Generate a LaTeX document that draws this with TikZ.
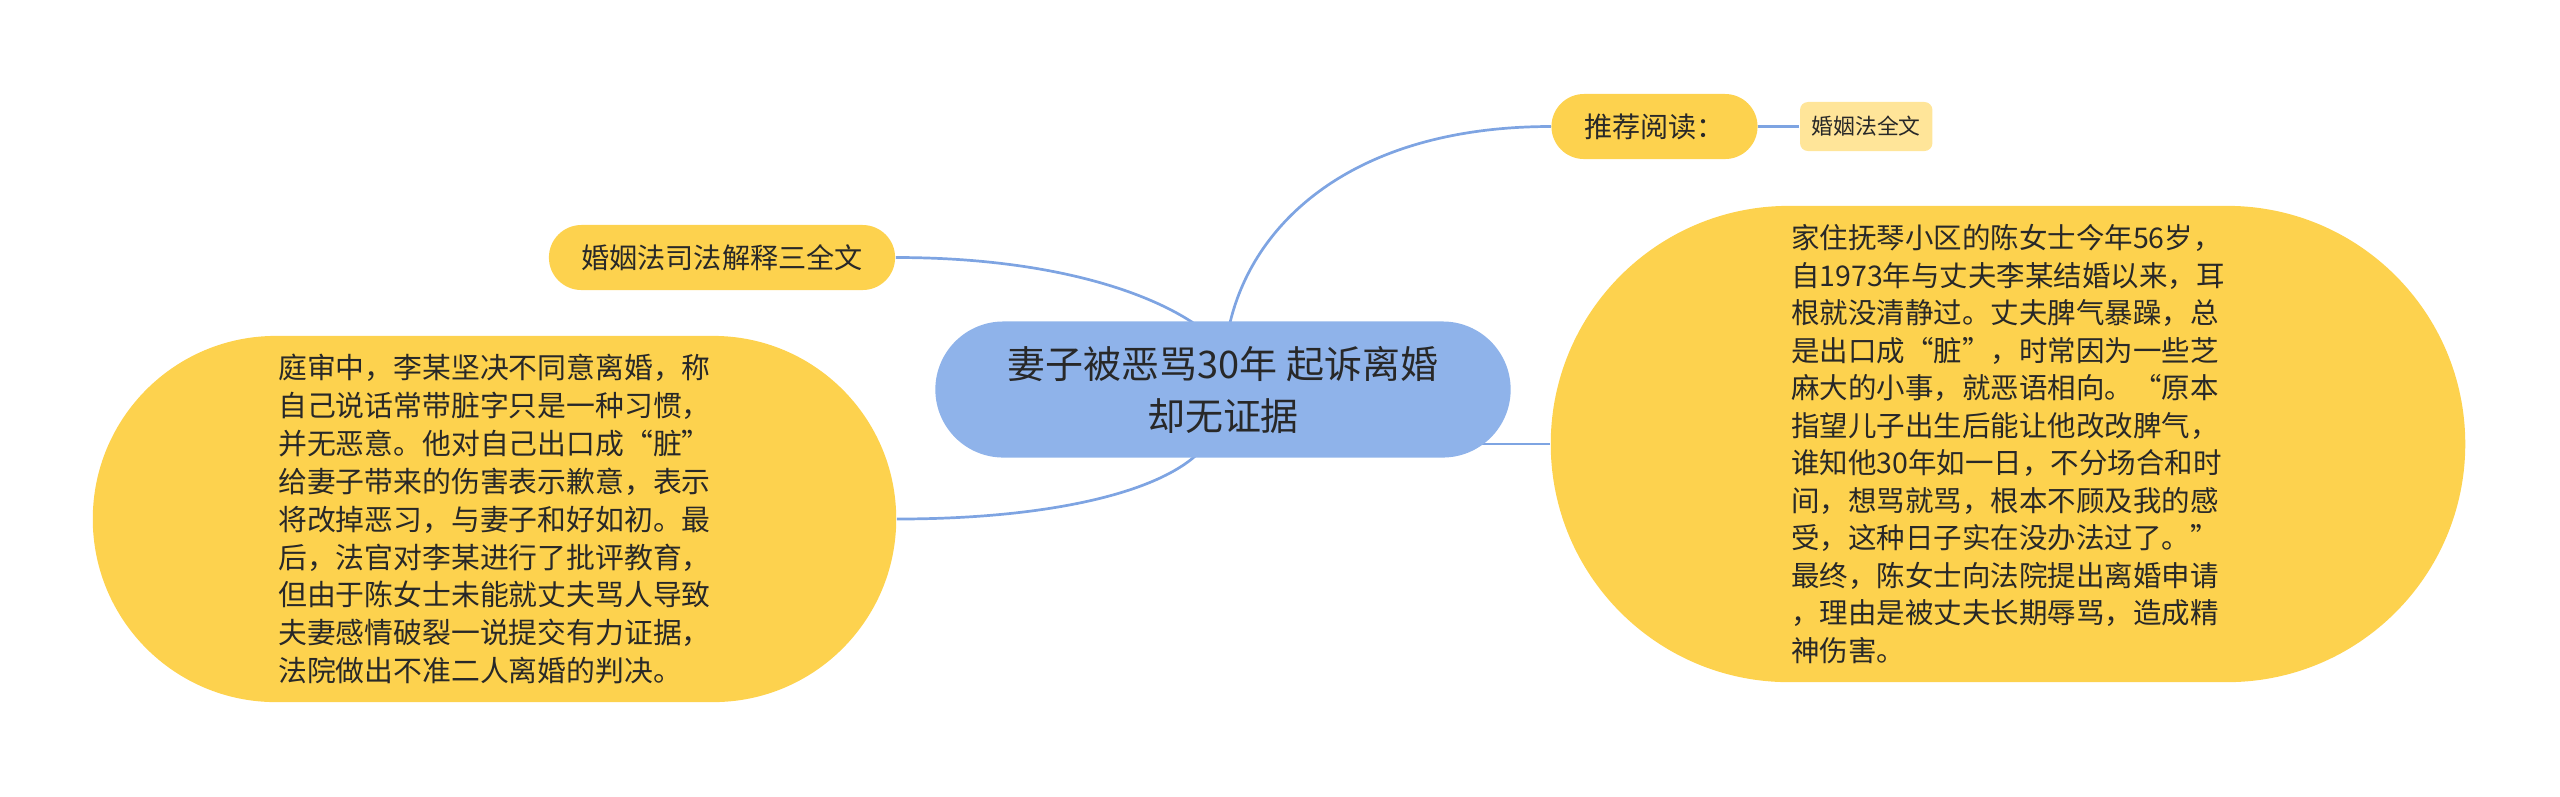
\documentclass[tikz,border=0pt]{standalone}
\usepackage{fontspec}
\usepackage{tikz}
\usetikzlibrary{positioning, backgrounds, calc}
\newfontfamily\cjk{Noto Sans CJK SC}
\definecolor{topicblue}{RGB}{143,179,234}
\definecolor{branchyellow}{RGB}{253,210,78}
\definecolor{leafyellow}{RGB}{255,229,153}
\definecolor{linkblue}{RGB}{126,164,226}
\definecolor{textdark}{RGB}{40,40,40}
\tikzset{
  topic/.style={fill=topicblue, rounded corners=0.68cm, minimum width=5.75cm,
                minimum height=1.36cm, align=center, text=textdark,
                font=\cjk\fontsize{10.8}{14.8}\selectfont},
  branch/.style={fill=branchyellow, rounded corners=0.325cm, minimum height=0.65cm,
                 align=center, text=textdark, font=\cjk\fontsize{8}{9.6}\selectfont},
  bigbranch/.style={fill=branchyellow, align=left, text=textdark},
  leaf/.style={fill=leafyellow, rounded corners=0.08cm, minimum width=1.31cm,
               minimum height=0.49cm, text=textdark, font=\cjk\fontsize{6.2}{7.4}\selectfont},
  link/.style={draw=linkblue, line width=0.77pt},
}
\begin{document}
\begin{tikzpicture}[x=0.01cm, y=-0.01cm, node distance=0.41cm]
  \useasboundingbox (0,0) rectangle (2560,796);

  % central topic
  \node[topic] (topic) at (1223,389.5) {妻子被恶骂30年 起诉离婚\\却无证据};

  % branches
  \node[branch, minimum width=2.06cm] (read) at (1654.5,126.5) {推荐阅读：};
  \node[leaf, right=of read] (lawtext) {婚姻法全文};
  \node[branch, minimum width=3.46cm] (interp) at (722,257.5) {婚姻法司法解释三全文};

  \node[bigbranch, rounded corners=1.83cm, minimum width=8.03cm, minimum height=3.66cm,
        font=\cjk\fontsize{8.2}{10.8}\selectfont] (court) at (494.5,519)
    {庭审中，李某坚决不同意离婚，称\\
     自己说话常带脏字只是一种习惯，\\
     并无恶意。他对自己出口成“脏”\\
     给妻子带来的伤害表示歉意，表示\\
     将改掉恶习，与妻子和好如初。最\\
     后，法官对李某进行了批评教育，\\
     但由于陈女士未能就丈夫骂人导致\\
     夫妻感情破裂一说提交有力证据，\\
     法院做出不准二人离婚的判决。};

  \node[bigbranch, rounded corners=2.38cm, minimum width=9.14cm, minimum height=4.76cm,
        font=\cjk\fontsize{8.1}{10.67}\selectfont] (story) at (2008,444)
    {家住抚琴小区的陈女士今年56岁，\\
     自1973年与丈夫李某结婚以来，耳\\
     根就没清静过。丈夫脾气暴躁，总\\
     是出口成“脏”，时常因为一些芝\\
     麻大的小事，就恶语相向。“原本\\
     指望儿子出生后能让他改改脾气，\\
     谁知他30年如一日，不分场合和时\\
     间，想骂就骂，根本不顾及我的感\\
     受，这种日子实在没办法过了。”\\
     最终，陈女士向法院提出离婚申请\\
     ，理由是被丈夫长期辱骂，造成精\\
     神伤害。};

  % connectors
  \begin{scope}[on background layer]
    \draw[link] ($(topic.north)+(7,2)$) .. controls +(25,-105) and +(-192,0) .. (read.west);
    \draw[link] (read.east) -- (lawtext.west);
    \draw[link] (interp.east) .. controls +(144,0) and +(-53,-35) .. ($(topic.north)+(-30,2)$);
    \draw[link] (court.east) .. controls +(144,0) and +(-45,39) .. ($(topic.south)+(-28,-2)$);
    \draw[link] (story.west) -- (story.west -| topic.center);
  \end{scope}
\end{tikzpicture}
\end{document}
